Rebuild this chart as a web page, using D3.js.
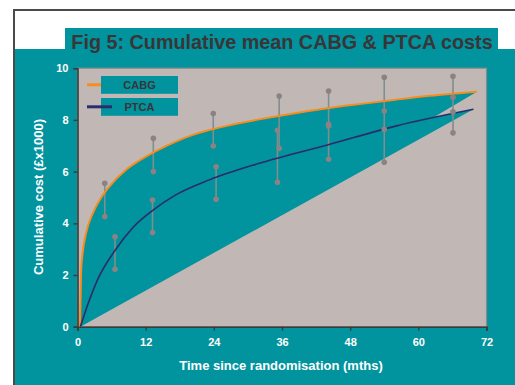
<!DOCTYPE html>
<html><head><meta charset="utf-8">
<script src="https://cdn.jsdelivr.net/npm/d3@7"></script>
<style>
html,body{margin:0;padding:0;background:#fff;}
text{font-family:"Liberation Sans",Arial,sans-serif;font-weight:bold;}
</style></head>
<body>
<svg id="c" width="515" height="385"></svg>
<script>
// ---- data ----
const titleText = "Fig 5: Cumulative mean CABG & PTCA costs";
const xTicks = [0, 12, 24, 36, 48, 60, 72];
const yTicks = [0, 2, 4, 6, 8, 10];
const seriesNames = ["CABG", "PTCA"];
const cabgTime = [0.45,0.55,0.65,0.9,1.5,2.7,4.1,5.6,8.5,11.5,14.4,17.3,20.3,23.2,26.1,32,38,44,50,56,62,70.3];
const cabgCost = [0,1.2,2.2,2.84,3.61,4.39,4.97,5.42,6.06,6.51,6.86,7.16,7.42,7.61,7.76,8.02,8.25,8.45,8.62,8.78,8.93,9.09];
const ptcaTime = [0.5,1.8,3.6,6.6,9.8,13.3,17.3,23.2,32,44,56,69.7];
const ptcaCost = [0,0.85,1.85,2.95,3.85,4.51,5.1,5.68,6.32,7.03,7.76,8.41];
const cabgBarTime = [4.8,13.35,23.9,35.5,44.2,54.0,66.1];
const cabgBarHigh = [5.55,7.29,8.25,8.92,9.12,9.65,9.69];
const cabgBarLow  = [4.26,6.00,6.99,6.90,7.76,8.34,8.87];
const ptcaBarTime = [6.6,13.2,24.4,35.2,44.2,54.0,66.1];
const ptcaBarHigh = [3.48,4.90,6.19,7.60,7.83,7.64,8.31];
const ptcaBarLow  = [2.22,3.64,4.93,5.59,6.48,6.36,7.50];
const joinedBarTimes = [54.0, 66.1];

// ---- styles ----
const TEAL = "#01939E", PLOTBG = "#C1B8B6", ORANGE = "#F88C1E", NAVY = "#2D2B6B";
const BARLINE = "#7F8E8E", DOT = "#8C8282", DARK = "#3A3536";

const svg = d3.select("#c");
// frame
svg.append("rect").attr("x",0).attr("y",0).attr("width",515).attr("height",385).attr("fill","#fff");
svg.append("rect").attr("x",14).attr("y",49).attr("width",501).attr("height",336).attr("fill",TEAL);
svg.append("path").attr("d","M14,386V10H516").attr("fill","none").attr("stroke","#4a4a4a").attr("stroke-width",2);
// title box
svg.append("rect").attr("x",65).attr("y",28).attr("width",433).attr("height",22).attr("fill",TEAL);
svg.append("text").attr("x",282).attr("y",49).attr("text-anchor","middle")
  .attr("font-size",19.8).attr("fill",DARK).text(titleText);

const x = d3.scaleLinear().domain([0,72]).range([77.5,486.5]);
const y = d3.scaleLinear().domain([0,10]).range([326.7,68.2]);

// plot background
svg.append("rect").attr("x",x(0)).attr("y",y(10)).attr("width",x(72)-x(0)).attr("height",y(0)-y(10))
  .attr("fill",PLOTBG).attr("stroke","#8e8a89").attr("stroke-width",1.2);

const cabg = cabgTime.map((t,i)=>[t,cabgCost[i]]);
const ptca = ptcaTime.map((t,i)=>[t,ptcaCost[i]]);
const line = d3.line().x(d=>x(d[0])).y(d=>y(d[1])).curve(d3.curveMonotoneX);

// filled regions between each curve and its chord
svg.append("path").attr("d",line(cabg)+"Z").attr("fill",TEAL);
svg.append("path").attr("d",line(ptca)+"Z").attr("fill",TEAL);

// axes
const xAxis = d3.axisBottom(x).tickValues(xTicks).tickSize(4).tickFormat(d3.format("d"));
const gx = svg.append("g").attr("transform",`translate(0,${y(0)})`).call(xAxis);
const yAxis = d3.axisLeft(y).tickValues(yTicks).tickSize(4).tickFormat(d3.format("d"));
const gy = svg.append("g").attr("transform",`translate(${x(0)},0)`).call(yAxis);
[gx,gy].forEach(g=>{
  g.select(".domain").attr("stroke","#3b3b3b").attr("stroke-width",1.6);
  g.selectAll(".tick line").attr("stroke","#3b3b3b").attr("stroke-width",1.4);
  g.selectAll(".tick text").attr("fill","#fff").attr("font-size",11)
    .attr("font-family","Liberation Sans, Arial, sans-serif").attr("font-weight","bold");
});
gx.selectAll(".tick text").attr("dy","0").attr("y",19);
gy.selectAll(".tick text").attr("x",-9);

// axis titles
svg.append("text").attr("x",281).attr("y",370).attr("text-anchor","middle")
  .attr("font-size",13).attr("fill","#fff").text("Time since randomisation (mths)");
svg.append("text").attr("transform","translate(43,197) rotate(-90)").attr("text-anchor","middle")
  .attr("font-size",13).attr("fill","#fff").text("Cumulative cost (£x1000)");

// error bar lines
const bars = [];
cabgBarTime.forEach((t,i)=>bars.push({t,hi:cabgBarHigh[i],lo:cabgBarLow[i]}));
ptcaBarTime.forEach((t,i)=>bars.push({t,hi:ptcaBarHigh[i],lo:ptcaBarLow[i]}));
const gb = svg.append("g");
joinedBarTimes.forEach(t=>{
  const ci = cabgBarTime.indexOf(t), pi = ptcaBarTime.indexOf(t);
  gb.append("line").attr("x1",x(t)).attr("x2",x(t)).attr("y1",y(cabgBarLow[ci])).attr("y2",y(ptcaBarHigh[pi]))
    .attr("stroke",BARLINE).attr("stroke-width",1.6);
});
bars.forEach(b=>{
  gb.append("line").attr("x1",x(b.t)).attr("x2",x(b.t)).attr("y1",y(b.hi)).attr("y2",y(b.lo))
    .attr("stroke",BARLINE).attr("stroke-width",1.6);
});

// curves
svg.append("path").attr("d",line(cabg)).attr("fill","none").attr("stroke",ORANGE).attr("stroke-width",2);
svg.append("path").attr("d",line(ptca)).attr("fill","none").attr("stroke",NAVY).attr("stroke-width",1.6);

// error bar end dots
const gd = svg.append("g");
bars.forEach(b=>{
  [b.hi,b.lo].forEach(v=>gd.append("circle").attr("cx",x(b.t)).attr("cy",y(v)).attr("r",2.8).attr("fill",DOT));
});

// legend
const leg = svg.append("g");
const legColors = [ORANGE, NAVY];
const legLineEnd = [101, 112];
seriesNames.forEach((n,i)=>{
  const cy = 84.8 + i*22;
  leg.append("rect").attr("x",101).attr("y",cy-8.8).attr("width",77).attr("height",17.8).attr("fill",TEAL);
  leg.append("line").attr("x1",87).attr("x2",legLineEnd[i]).attr("y1",cy).attr("y2",cy)
    .attr("stroke",legColors[i]).attr("stroke-width",3);
  leg.append("text").attr("x",139.5).attr("y",cy+4).attr("text-anchor","middle")
    .attr("font-size",11).attr("fill",DARK).text(n);
});
</script>
</body></html>
